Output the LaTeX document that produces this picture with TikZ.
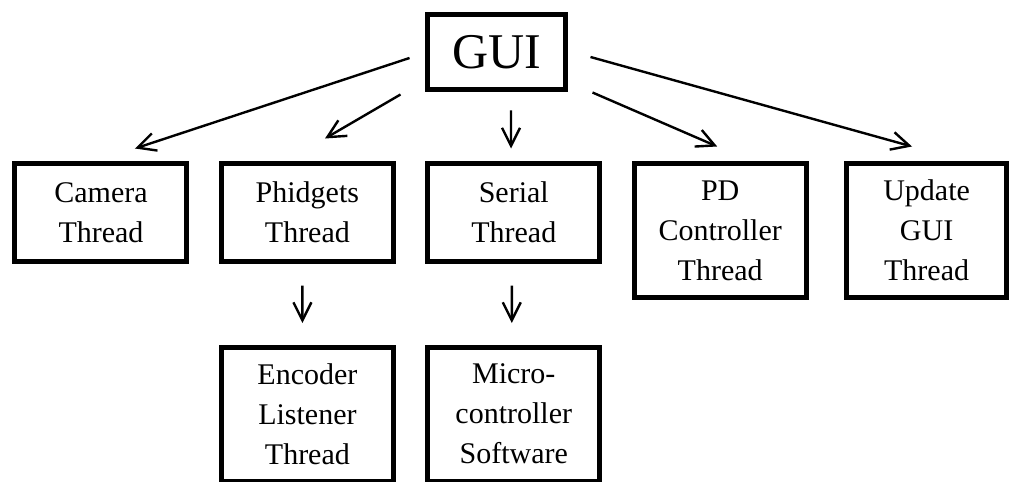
\documentclass[tikz,border=0pt]{standalone}
\usepackage{fontspec}
\setmainfont{Liberation Serif}
\usepackage{tikz}
\usetikzlibrary{trees,arrows.meta}

\begin{document}
\begin{tikzpicture}[%
  grow=down,
  level 1/.style={sibling distance=103.2pt, level distance=54.5pt},
  level 2/.style={level distance=66pt},
  edge from parent/.style={draw=none},
  every child node/.style={anchor=north},
  box/.style={draw, line width=2.5pt, text width=70pt, align=center,
    minimum width=86pt, minimum height=49pt, inner sep=2pt,
    font=\fontsize{15pt}{20pt}\selectfont},
  rowbox/.style={box, xshift=8.65pt},
  tallbox/.style={minimum height=67pt},
  arr/.style={-{Straight Barb[length=9pt,width=9pt]}, line width=1.2pt}]
  \useasboundingbox (-248.25pt,26pt) rectangle (256.75pt,-214.5pt);
  \node[box, text width=60pt, minimum width=69pt, minimum height=37.5pt,
    font=\fontsize{25pt}{30pt}\selectfont] (gui) {GUI}
    child { node[rowbox] (camera) {Camera\\Thread}}
    child { node[rowbox] (phidgets) {Phidgets\\Thread}
      child { node[box, tallbox] (encoder) {Encoder\\Listener\\Thread}}
    }
    child { node[rowbox] (serial) {Serial\\Thread}
      child { node[box, tallbox] (micro) {Micro-\\controller\\Software}}
    }
    child { node[rowbox, tallbox] (pd) {PD\\Controller\\Thread}}
    child { node[rowbox, tallbox, minimum width=80pt] (update) {Update\\GUI\\Thread}};
  \draw[arr] ([xshift=-7.75pt, yshift=-3pt]gui.west) -- ([xshift=17pt, yshift=6.25pt]camera.north);
  \draw[arr] ([xshift=-12.25pt, yshift=-1.25pt]gui.south west) -- ([xshift=8.8pt, yshift=11.25pt]phidgets.north);
  \draw[arr] ([xshift=7.25pt, yshift=-9.25pt]gui.south) -- ([xshift=-1.4pt, yshift=6.25pt]serial.north);
  \draw[arr] ([xshift=12.25pt, yshift=-0.25pt]gui.south east) -- ([xshift=-1.5pt, yshift=7.25pt]pd.north);
  \draw[arr] ([xshift=11.25pt, yshift=-2.5pt]gui.east) -- ([xshift=-7.3pt, yshift=7.25pt]update.north);
  \draw[arr] ([xshift=-2.5pt, yshift=-10.75pt]phidgets.south) -- ([xshift=-2.5pt, yshift=10.75pt]encoder.north);
  \draw[arr] ([xshift=-1pt, yshift=-10.75pt]serial.south) -- ([xshift=-1pt, yshift=10.75pt]micro.north);
\end{tikzpicture}
\end{document}
